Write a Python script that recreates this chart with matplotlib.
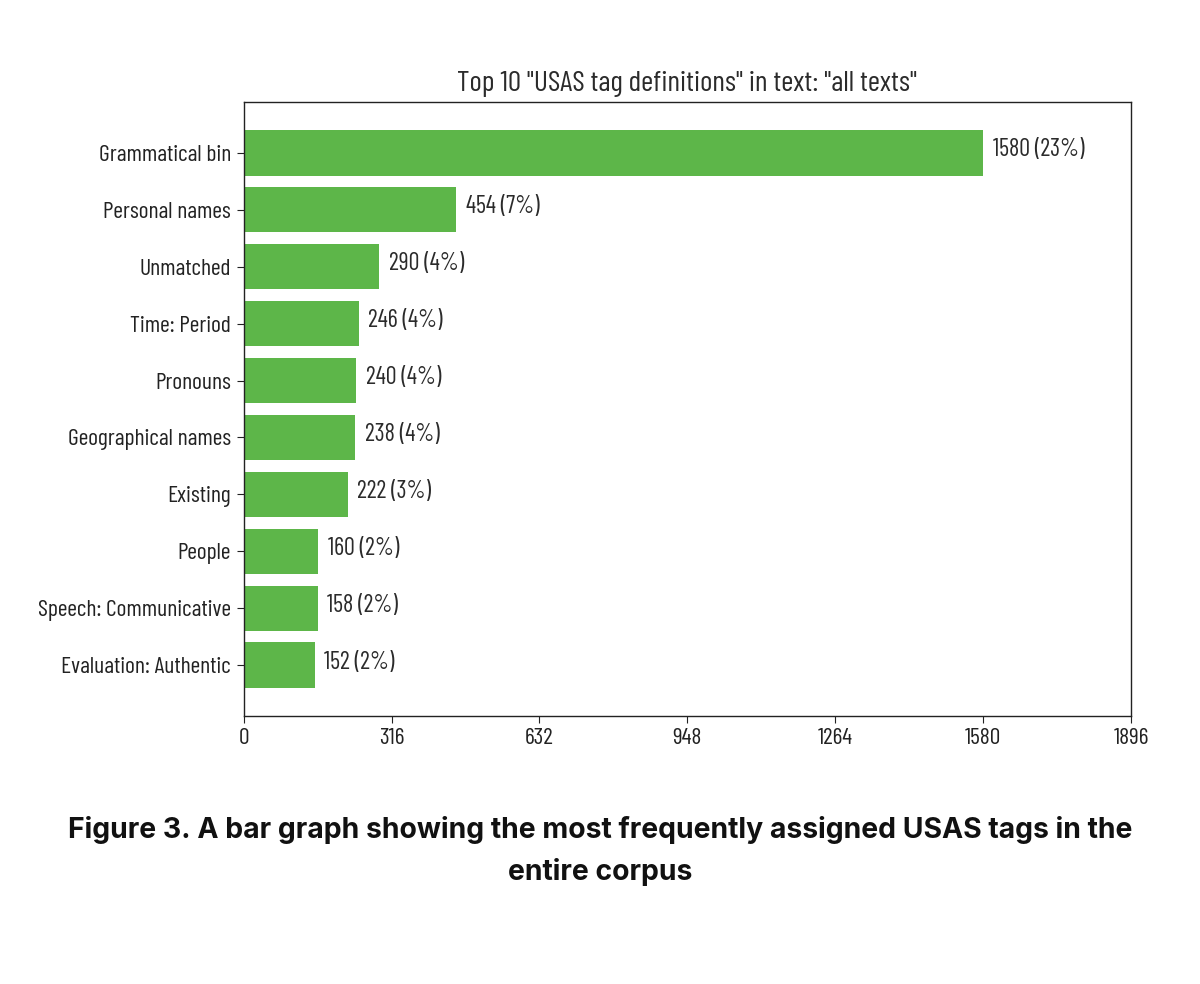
import matplotlib
matplotlib.use("Agg")
import matplotlib.pyplot as plt

categories = ["Grammatical bin", "Personal names", "Unmatched", "Time: Period",
              "Pronouns", "Geographical names", "Existing", "People",
              "Speech: Communicative", "Evaluation: Authentic"]
values = [1580, 454, 290, 246, 240, 238, 222, 160, 158, 152]
percents = [23, 7, 4, 4, 4, 4, 3, 2, 2, 2]
xticks = [0, 316, 632, 948, 1264, 1580, 1896]
title = 'Top 10 "USAS tag definitions" in text: "all texts"'
caption = "Figure 3. A bar graph showing the most frequently assigned USAS tags in the\nentire corpus"

green = "#5db649"
txtc = "#2b2b2b"
fs = dict(family="Barlow Condensed")

fig = plt.figure(figsize=(12, 9.84), dpi=100)
ax = fig.add_axes([0.203, 0.2724, 0.7395, 0.6239])
ypos = list(range(len(categories)))
ax.barh(ypos, values, height=0.8, color=green)
ax.invert_yaxis()
ax.set_yticks(ypos)
ax.set_yticklabels(categories, fontsize=17, color=txtc, **fs)
ax.set_xlim(0, 1896)
ax.set_xticks(xticks)
ax.set_xticklabels([str(t) for t in xticks], fontsize=17, color=txtc, **fs)
for y, v, p in zip(ypos, values, percents):
    ax.annotate(f"{v} ({p}%)", xy=(v, y), xytext=(7, 2), textcoords="offset points",
                ha="left", va="center", fontsize=17.5, color=txtc, **fs)
ax.set_title(title, fontsize=21.2, pad=8, color=txtc, **fs)
for s in ax.spines.values():
    s.set_linewidth(1.0)
    s.set_color("#222222")
ax.tick_params(colors="#222222", length=5, pad=4)

fig.text(0.5, 0.135, caption, ha="center", va="center", fontsize=20.4,
         fontweight="bold", family="Inter", linespacing=1.64, color="#111111")
fig.savefig("out.png", dpi=100)
